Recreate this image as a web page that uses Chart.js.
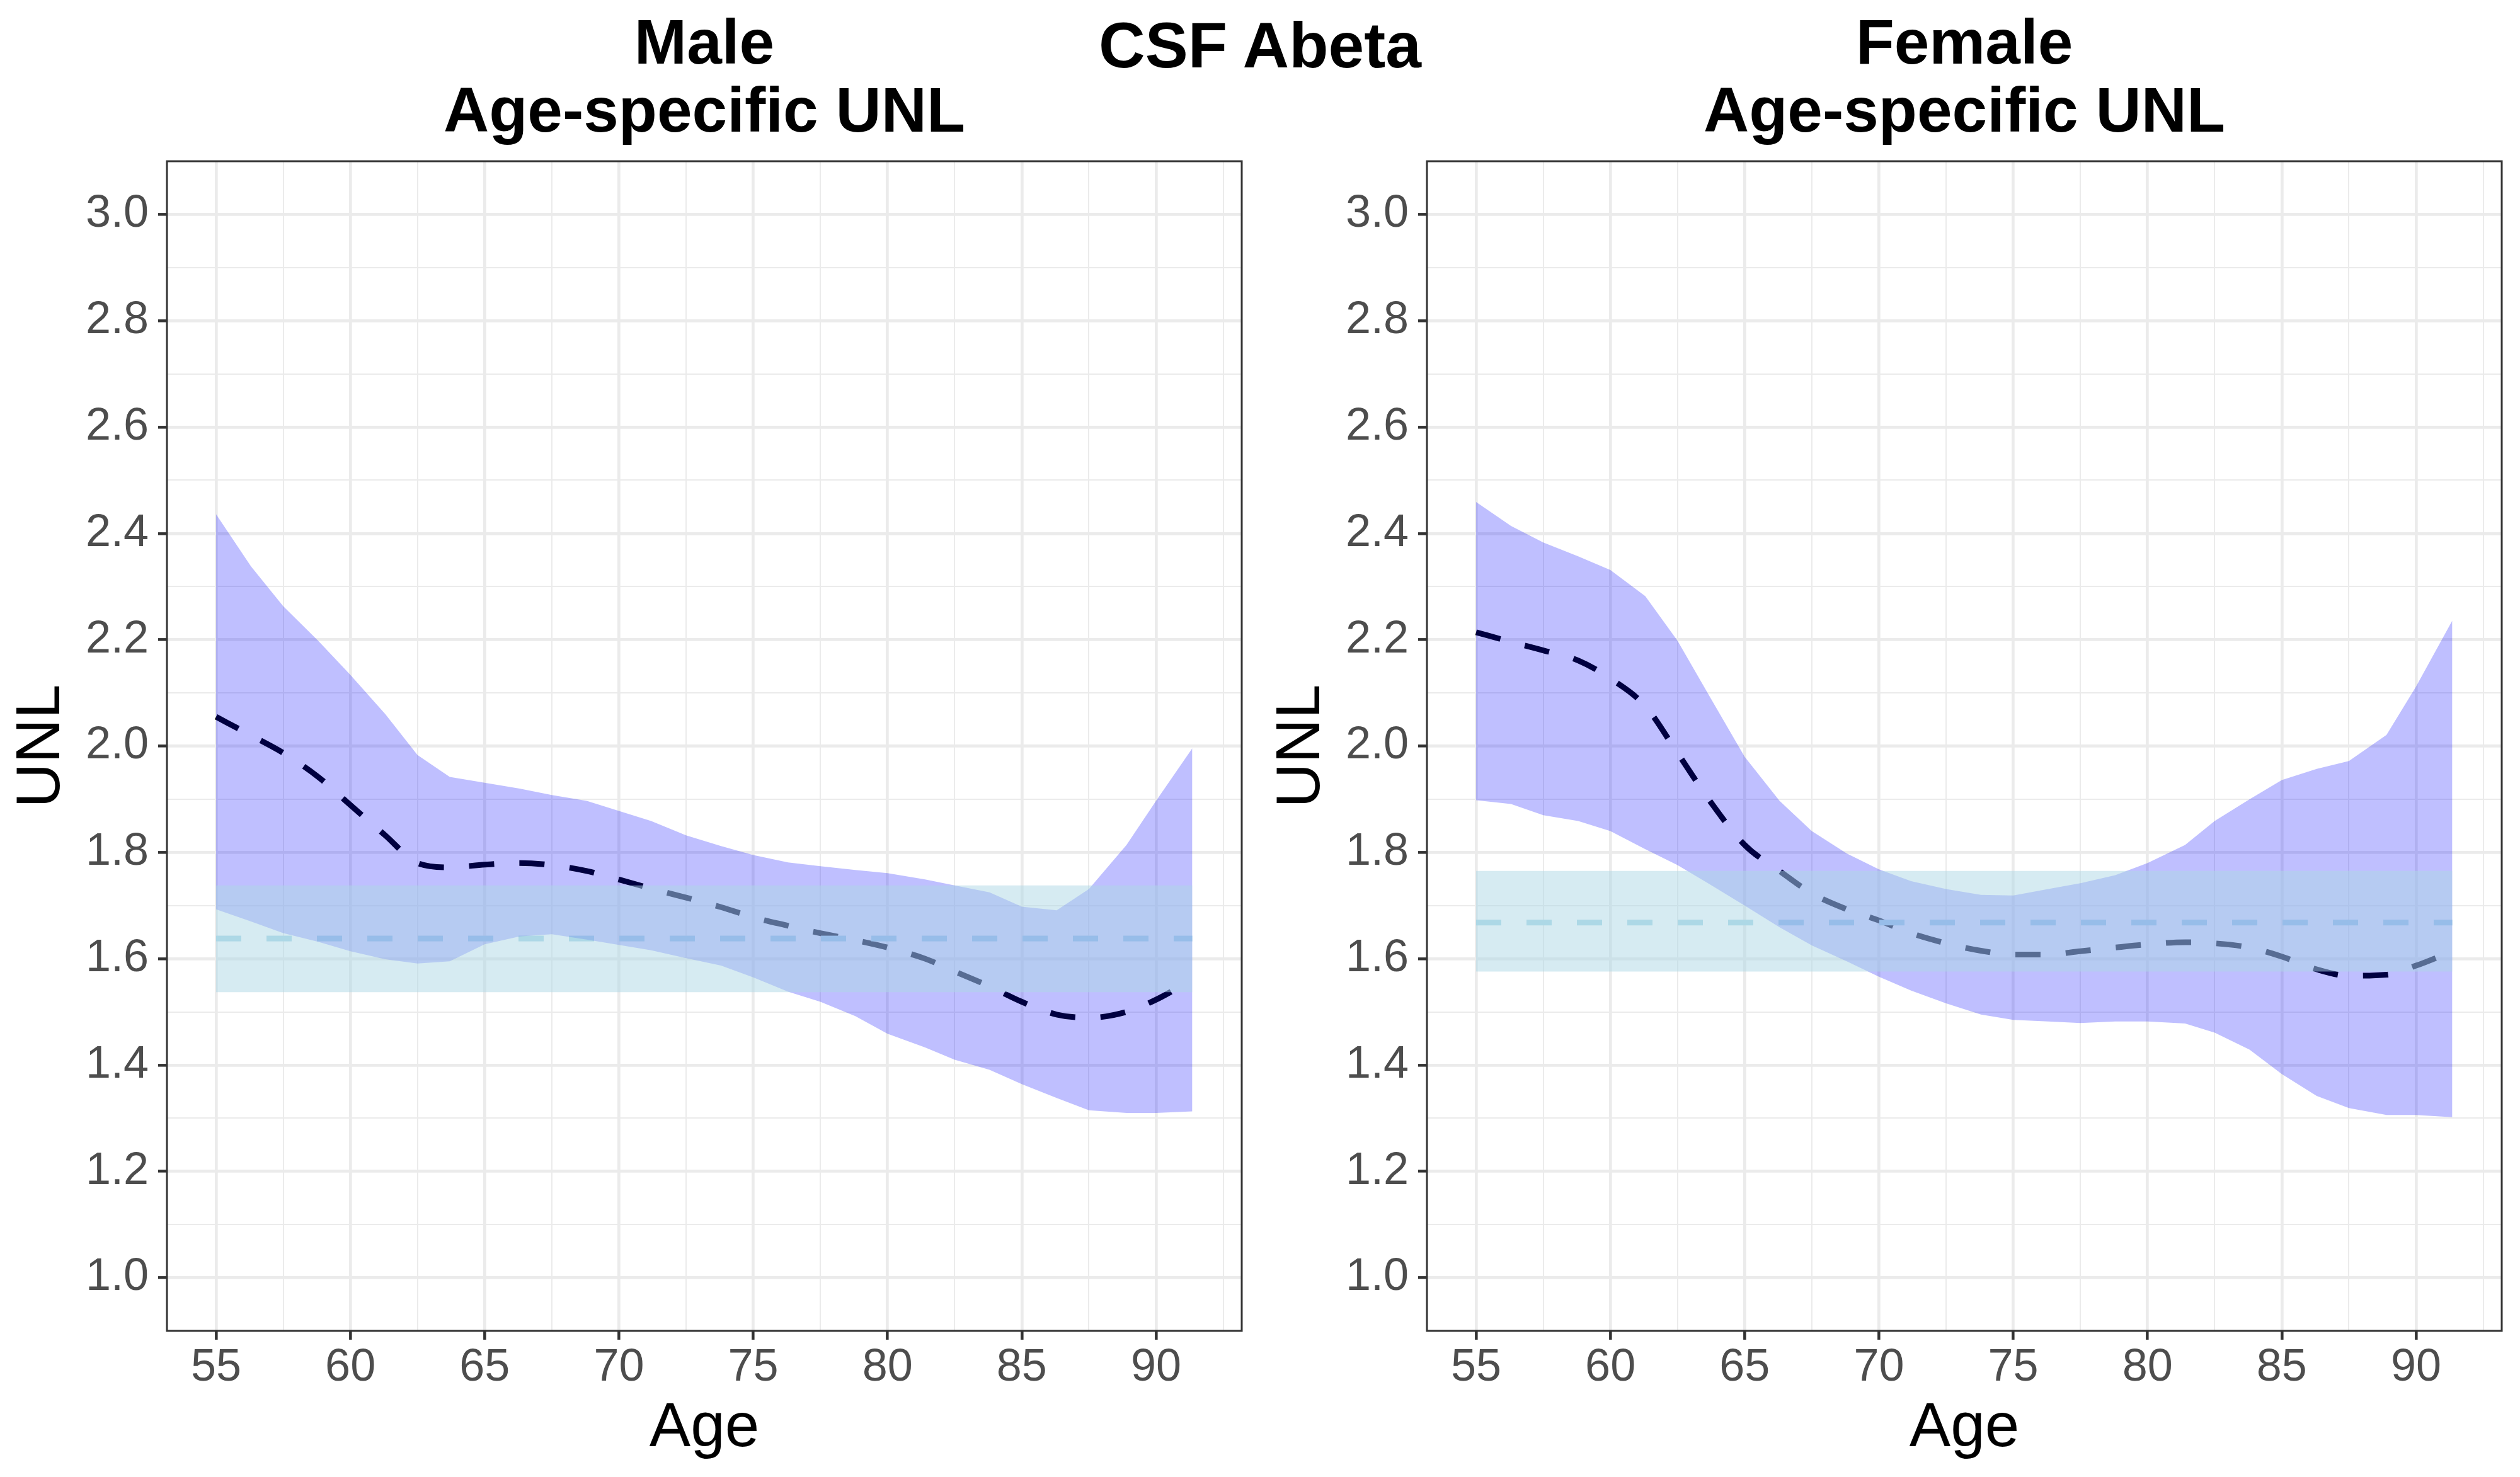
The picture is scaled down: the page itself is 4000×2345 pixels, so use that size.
<!DOCTYPE html>
<html>
<head>
<meta charset="utf-8">
<script src="https://cdn.jsdelivr.net/npm/chart.js@4"></script>
<style>
  html, body { margin: 0; padding: 0; background: #fff; }
  body { width: 4000px; height: 2345px; position: relative; overflow: hidden; font-family: "Liberation Sans", Arial, sans-serif; }
  .panel { position: absolute; top: 0; width: 2000px; height: 2345px; }
  .title { position: absolute; font-weight: bold; color: #000; text-align: center; white-space: nowrap; }
  .ptitle { top: 12px; width: 1706px; font-size: 100px; line-height: 108px; }
</style>
</head>
<body>
<div class="title" style="left:1500px; width:1000px; top:18px; font-size:102px; line-height:108px;">CSF Abeta</div>
<div class="title ptitle" style="left:265px;">Male<br>Age-specific UNL</div>
<div class="title ptitle" style="left:2265px;">Female<br>Age-specific UNL</div>
<div class="panel" style="left:0"><canvas id="male"></canvas></div>
<div class="panel" style="left:2000px"><canvas id="female"></canvas></div>
<script>
// ages at which the curves were read
const ages = [55, 56.3, 57.5, 58.8, 60, 61.3, 62.5, 63.7, 65, 66.3, 67.5, 68.8, 70, 71.2, 72.5,
              73.8, 75, 76.3, 77.5, 78.8, 80, 81.4, 82.5, 83.8, 85, 86.3, 87.5, 88.9, 90, 91.35];

const maleUpper = [2.436, 2.338, 2.263, 2.198, 2.134, 2.06, 1.983, 1.942, 1.931, 1.92, 1.908, 1.897, 1.878, 1.859, 1.832,
                   1.812, 1.795, 1.781, 1.774, 1.767, 1.761, 1.749, 1.738, 1.725, 1.698, 1.691, 1.731, 1.814, 1.897, 1.996];
const maleLower = [1.693, 1.670, 1.648, 1.632, 1.614, 1.599, 1.591, 1.595, 1.627, 1.642, 1.646, 1.636, 1.626, 1.616, 1.601,
                   1.587, 1.565, 1.538, 1.519, 1.492, 1.459, 1.433, 1.410, 1.391, 1.364, 1.338, 1.315, 1.310, 1.310, 1.313];
const maleUNL   = [2.055, 2.020, 1.987, 1.942, 1.889, 1.832, 1.780, 1.772, 1.777, 1.780, 1.776, 1.765, 1.749, 1.732, 1.715,
                   1.697, 1.678, 1.662, 1.648, 1.635, 1.621, 1.600, 1.576, 1.548, 1.519, 1.495, 1.489, 1.500, 1.523, 1.561];
const maleRef = 1.638;
const maleBand = [1.537, 1.738];

const femaleUpper = [2.459, 2.414, 2.383, 2.357, 2.331, 2.282, 2.198, 2.093, 1.980, 1.897, 1.840, 1.798, 1.768, 1.746, 1.731,
                     1.720, 1.719, 1.731, 1.742, 1.757, 1.780, 1.814, 1.859, 1.900, 1.936, 1.957, 1.972, 2.021, 2.112, 2.236];
const femaleLower = [1.898, 1.891, 1.870, 1.859, 1.840, 1.806, 1.776, 1.740, 1.700, 1.659, 1.625, 1.595, 1.566, 1.540, 1.516,
                     1.495, 1.485, 1.482, 1.479, 1.482, 1.482, 1.478, 1.461, 1.429, 1.383, 1.342, 1.319, 1.306, 1.306, 1.302];
const femaleUNL   = [2.214, 2.196, 2.180, 2.161, 2.127, 2.075, 1.987, 1.897, 1.814, 1.765, 1.723, 1.693, 1.672, 1.648, 1.629,
                     1.615, 1.608, 1.608, 1.614, 1.621, 1.627, 1.631, 1.629, 1.621, 1.604, 1.580, 1.568, 1.570, 1.587, 1.614];
const femaleRef = 1.668;
const femaleBand = [1.576, 1.765];

// axes
const xMajor = [55, 60, 65, 70, 75, 80, 85, 90];
const xMinor = [57.5, 62.5, 67.5, 72.5, 77.5, 82.5, 87.5, 92.5];
const yMajor = [1.0, 1.2, 1.4, 1.6, 1.8, 2.0, 2.2, 2.4, 2.6, 2.8, 3.0];
const yMinor = [1.1, 1.3, 1.5, 1.7, 1.9, 2.1, 2.3, 2.5, 2.7, 2.9];
const xRange = [53.17, 93.19];
const yRange = [0.9, 3.1];

const FONT = "'Liberation Sans', Arial, sans-serif";

const isMajor = (list, v) => list.some(m => Math.abs(m - v) < 1e-6);

const panelBorder = {
  id: 'panelBorder',
  afterDatasetsDraw(chart) {
    const a = chart.chartArea, ctx = chart.ctx;
    ctx.save();
    ctx.strokeStyle = '#333333';
    ctx.lineWidth = 3;
    ctx.strokeRect(a.left, a.top, a.right - a.left, a.bottom - a.top);
    ctx.restore();
  }
};

function pts(ys) {
  return ages.map((a, i) => ({ x: a, y: ys[i] }));
}
function flat(v) {
  return [{ x: ages[0], y: v }, { x: ages[ages.length - 1], y: v }];
}

function gridOpts(major) {
  return {
    color: '#EBEBEB',
    lineWidth: c => (c.tick && isMajor(major, c.tick.value)) ? 4.7 : 2,
    tickColor: c => (c.tick && isMajor(major, c.tick.value)) ? '#333333' : 'rgba(0,0,0,0)',
    tickWidth: 4.5,
    tickLength: 14
  };
}

function makePanel(id, upper, lower, unl, ref, band) {
  new Chart(document.getElementById(id), {
    type: 'line',
    data: {
      datasets: [
        { data: flat(band[1]), borderWidth: 0, pointRadius: 0, fill: 1,
          backgroundColor: 'rgba(173,216,230,0.5)', order: 1 },
        { data: flat(band[0]), borderWidth: 0, pointRadius: 0, fill: false, order: 1 },
        { data: pts(upper), borderWidth: 0, pointRadius: 0, fill: 3,
          backgroundColor: 'rgba(0,0,255,0.25)', order: 3 },
        { data: pts(lower), borderWidth: 0, pointRadius: 0, fill: false, order: 3 },
        { data: flat(ref), borderColor: '#ADD8E6', borderWidth: 9, borderDash: [40, 40],
          pointRadius: 0, fill: false, order: 4 },
        { data: pts(unl), borderColor: '#000000', borderWidth: 9, borderDash: [40, 40],
          cubicInterpolationMode: 'monotone', pointRadius: 0, fill: false, order: 5 }
      ]
    },
    options: {
      responsive: true,
      maintainAspectRatio: false,
      devicePixelRatio: 1,
      animation: false,
      layout: { padding: { top: 256, right: 29, bottom: 0, left: 0 } },
      plugins: { legend: { display: false }, tooltip: { enabled: false } },
      scales: {
        x: {
          type: 'linear',
          min: xRange[0], max: xRange[1],
          afterBuildTicks: s => { s.ticks = xMajor.concat(xMinor).sort((a, b) => a - b).map(v => ({ value: v })); },
          afterFit: s => { s.height = 232; },
          grid: gridOpts(xMajor),
          border: { display: false },
          ticks: {
            autoSkip: false, maxRotation: 0, padding: 9, color: '#4D4D4D',
            font: { family: FONT, size: 72, lineHeight: 1 },
            callback: v => isMajor(xMajor, v) ? String(v) : ''
          },
          title: { display: true, text: 'Age', color: '#000',
                   font: { family: FONT, size: 98, lineHeight: 1.2 }, padding: { top: 0, bottom: 17 } }
        },
        y: {
          type: 'linear',
          min: yRange[0], max: yRange[1],
          afterBuildTicks: s => { s.ticks = yMajor.concat(yMinor).sort((a, b) => a - b).map(v => ({ value: v })); },
          afterFit: s => { s.width = 265; },
          grid: gridOpts(yMajor),
          border: { display: false },
          ticks: {
            autoSkip: false, padding: 15, color: '#4D4D4D',
            font: { family: FONT, size: 72, lineHeight: 1 },
            callback: v => isMajor(yMajor, v) ? v.toFixed(1) : ''
          },
          title: { display: true, text: 'UNL', color: '#000',
                   font: { family: FONT, size: 98, lineHeight: 1.2 }, padding: { top: 8, bottom: 0 } }
        }
      }
    },
    plugins: [panelBorder]
  });
}

makePanel('male', maleUpper, maleLower, maleUNL, maleRef, maleBand);
makePanel('female', femaleUpper, femaleLower, femaleUNL, femaleRef, femaleBand);
</script>
</body>
</html>
